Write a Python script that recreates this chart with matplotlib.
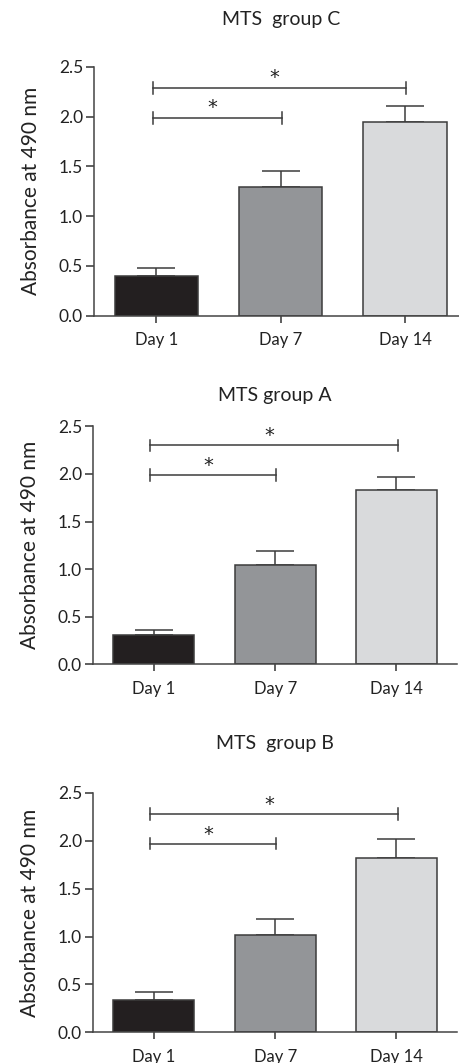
import matplotlib.pyplot as plt

plt.rcParams['font.family'] = ['Lato', 'DejaVu Sans']

days = ['Day 1', 'Day 7', 'Day 14']

# panels from top to bottom
titles = ['MTS  group C', 'MTS group A', 'MTS  group B']
means_c = [0.40, 1.29, 1.95]
err_c = [0.08, 0.16, 0.16]
means_a = [0.31, 1.04, 1.83]
err_a = [0.05, 0.15, 0.14]
means_b = [0.34, 1.02, 1.82]
err_b = [0.08, 0.16, 0.20]
bracket_y_c = [1.99, 2.29]
bracket_y_a = [1.99, 2.30]
bracket_y_b = [1.97, 2.28]
bracket_pairs = [(0, 1), (0, 2)]

bar_colors = ['#231f20', '#939598', '#d9dadc']
edge = '#3c3c3c'

fig = plt.figure(figsize=(4.59, 10.63), dpi=100)

# axes boxes in figure fractions (left, bottom, width, height) and title pad
boxes = [
    (0.205, 0.703, 0.813, 0.234, 30),
    (0.203, 0.375, 0.793, 0.224, 18),
    (0.203, 0.029, 0.793, 0.225, 32),
]
all_means = [means_c, means_a, means_b]
all_err = [err_c, err_a, err_b]
all_brackets = [bracket_y_c, bracket_y_a, bracket_y_b]

for i in range(3):
    l, b, w, h, pad = boxes[i]
    ax = fig.add_axes([l, b, w, h])
    x = list(range(len(days)))
    ax.bar(x, all_means[i], width=0.67, color=bar_colors, edgecolor=edge, linewidth=1.1, zorder=2)
    ax.errorbar(x, all_means[i], yerr=[[0] * 3, all_err[i]], fmt='none', ecolor=edge,
                elinewidth=1.1, capsize=14, capthick=1.1, zorder=1)

    # significance brackets
    for (x0, x1), yb in zip(bracket_pairs, all_brackets[i]):
        ax.plot([x0 - 0.03, x1 + 0.01], [yb, yb], color=edge, lw=1.1, clip_on=False)
        for xe in (x0 - 0.03, x1 + 0.01):
            ax.plot([xe, xe], [yb - 0.06, yb + 0.06], color=edge, lw=1.1, clip_on=False)
        ax.text((x0 + x1) / 2 - 0.05, yb + 0.10, '*', ha='center', va='center', fontsize=14,
                family='DejaVu Sans', color='#222222')

    ax.set_xlim(-0.5, 2.5)
    ax.set_ylim(0, 2.5)
    ax.set_yticks([0, 0.5, 1.0, 1.5, 2.0, 2.5])
    ax.set_yticklabels(['0.0', '0.5', '1.0', '1.5', '2.0', '2.5'])
    ax.set_xticks(x)
    ax.set_xticklabels(days)
    ax.tick_params(axis='y', direction='out', length=6, width=1.1, labelsize=12.5, pad=2, colors='#333333')
    ax.tick_params(axis='x', direction='out', length=5, width=1.1, labelsize=12, pad=7, colors='#333333')
    for lab in ax.get_xticklabels() + ax.get_yticklabels():
        lab.set_color('#222222')
    ax.spines['top'].set_visible(False)
    ax.spines['right'].set_visible(False)
    for s in ('left', 'bottom'):
        ax.spines[s].set_linewidth(1.1)
        ax.spines[s].set_color('#444444')
    ax.set_ylabel('Absorbance at 490 nm', fontsize=15, color='#222222', labelpad=13)
    ax.set_title(titles[i], fontsize=14, color='#222222', pad=pad)

fig.savefig('out.png', dpi=100)
